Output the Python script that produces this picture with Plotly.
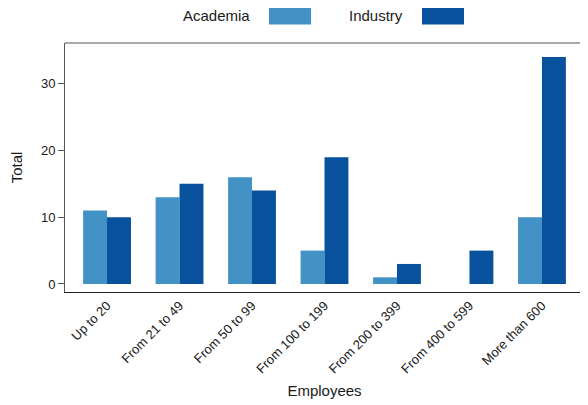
import plotly.graph_objects as go

categories = ["Up to 20", "From 21 to 49", "From 50 to 99", "From 100 to 199",
              "From 200 to 399", "From 400 to 599", "More than 600"]
academia = [11, 13, 16, 5, 1, 0, 10]
industry = [10, 15, 14, 19, 3, 5, 34]
y_ticks = [0, 10, 20, 30]

c_acad = "#4292c6"
c_ind = "#08519c"
font = "Liberation Sans, Arial, Helvetica, sans-serif"

fig = go.Figure()
fig.add_trace(go.Bar(x=categories, y=academia, name="Academia", marker=dict(color=c_acad, line=dict(width=0))))
fig.add_trace(go.Bar(x=categories, y=industry, name="Industry", marker=dict(color=c_ind, line=dict(width=0))))

# page body has an 8px margin, so the figure is sized/offset to compensate
fig.update_layout(
    width=580, height=397,
    margin=dict(l=57, r=4, t=35, b=113, autoexpand=False),
    barmode="group", bargap=0.34, bargroupgap=0,
    plot_bgcolor="white", paper_bgcolor="white",
    showlegend=False,
    font=dict(family=font, size=13, color="#1a1a1a"),
    xaxis=dict(
        range=[-0.58, 6.58], tickangle=-45, showgrid=False, ticks="",
        showline=True, linecolor="#222", linewidth=1, mirror=False,
        automargin=False,
        title=dict(text="Employees", font=dict(size=15), standoff=10),
        tickfont=dict(size=13),
    ),
    yaxis=dict(
        range=[-1.2, 36.1], tickvals=y_ticks, showgrid=False, zeroline=False,
        ticks="outside", ticklen=6, tickcolor="#555", showline=True,
        linecolor="#555", linewidth=1, mirror="ticks", automargin=False,
        title=dict(text="Total", font=dict(size=15), standoff=14),
        tickfont=dict(size=13),
    ),
)

# top and right border of the box
fig.add_shape(type="line", xref="paper", yref="paper", x0=0, x1=1, y0=1, y1=1,
              line=dict(color="#555", width=1))
fig.add_shape(type="line", xref="paper", yref="paper", x0=1, x1=1, y0=0, y1=1,
              line=dict(color="#555", width=1))

# legend (text then swatch); positions in page pixels, plot area 65..584 x 43..292
legend_items = [("Academia", c_acad, 252, 269), ("Industry", c_ind, 405, 422)]
for name, col, tx, bx in legend_items:
    fig.add_annotation(text=name, xref="paper", yref="paper",
                       x=(tx - 65) / 519, y=1 + (43 - 16) / 249,
                       xanchor="right", yanchor="middle", showarrow=False,
                       xshift=0, font=dict(size=15, family=font, color="#1a1a1a"))
    fig.add_shape(type="rect", xref="paper", yref="paper",
                  x0=(bx - 65) / 519, x1=(bx + 42 - 65) / 519,
                  y0=1 + (43 - 24.5) / 249, y1=1 + (43 - 7.5) / 249,
                  fillcolor=col, line=dict(width=0))

fig.write_html("out.html")
